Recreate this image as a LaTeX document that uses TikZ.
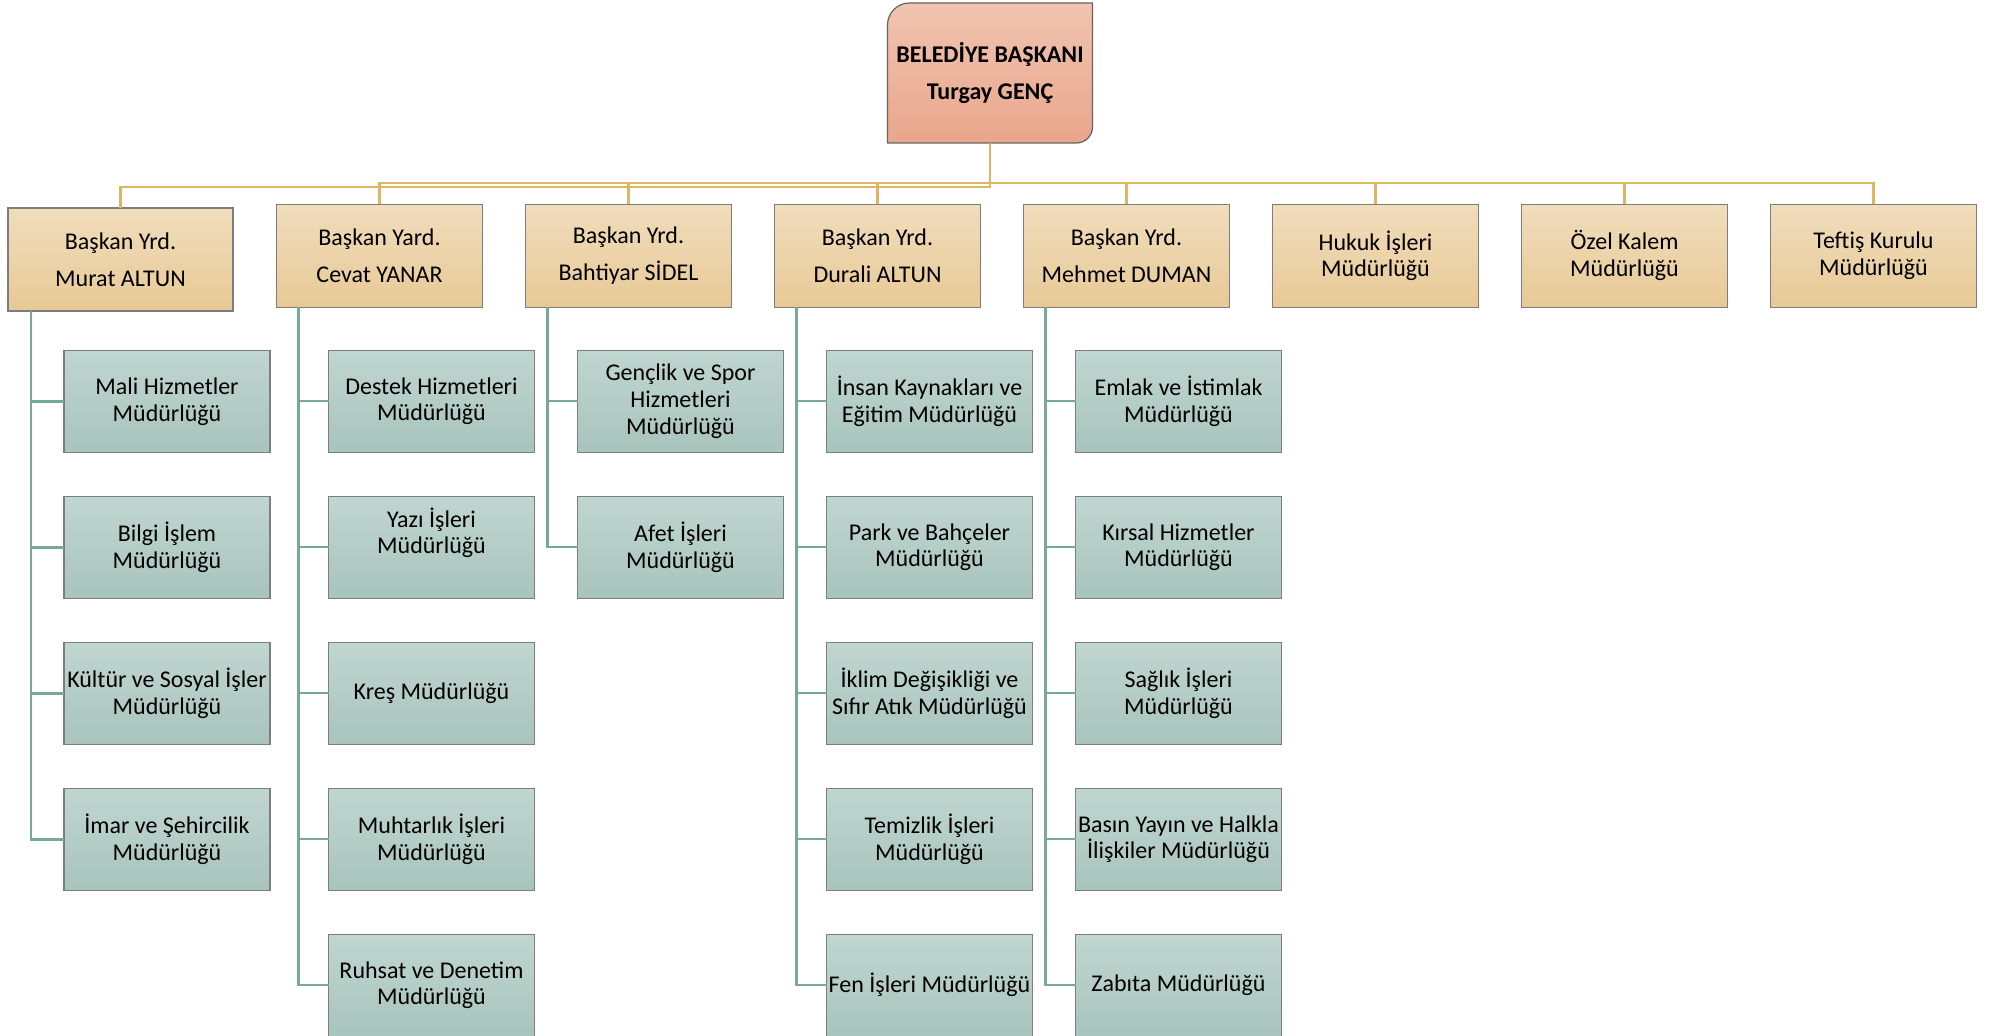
\documentclass[tikz,border=0pt]{standalone}
\usepackage{fontspec}
\setmainfont{Carlito}
\usetikzlibrary{positioning, backgrounds}

\definecolor{bbtop}{RGB}{241,196,176}
\definecolor{bbbot}{RGB}{233,166,140}
\definecolor{yrdtop}{RGB}{240,221,188}
\definecolor{yrdbot}{RGB}{232,201,150}
\definecolor{mdrtop}{RGB}{192,214,208}
\definecolor{mdrbot}{RGB}{168,196,188}
\definecolor{goldline}{RGB}{220,182,98}
\definecolor{tealline}{RGB}{120,168,152}
\definecolor{boxedge}{RGB}{125,125,125}

\tikzset{
    box/.style = {draw=boxedge, line width=0.6pt, align=center, inner sep=1pt, outer sep=0pt,
                  minimum width=103pt, minimum height=51.5pt, font=\fontsize{12pt}{13.4pt}\selectfont},
    yrd/.style = {box, top color=yrdtop, bottom color=yrdbot, font=\fontsize{12pt}{18.5pt}\selectfont},
    brm/.style = {box, top color=yrdtop, bottom color=yrdbot},
    mdr/.style = {box, top color=mdrtop, bottom color=mdrbot, minimum height=51pt},
    baskan/.style = {align=center, minimum width=102.5pt, minimum height=70pt, outer sep=0pt,
                     font=\bfseries\fontsize{12pt}{18.5pt}\selectfont},
    gline/.style = {draw=goldline, line width=1.3pt},
    tline/.style = {draw=tealline, line width=1.2pt}
}

\begin{document}
\begin{tikzpicture} [x=0.5pt, y=-0.5pt, node distance = 22pt]

    \useasboundingbox (0,0) rectangle (1998,1036);

    \node (bb) [baskan] at (990,73) {BELEDİYE BAŞKANI\\Turgay GENÇ};
    \begin{scope}[on background layer]
        \path [draw=boxedge!80!black, line width=0.6pt, top color=bbtop, bottom color=bbbot]
            (bb.south west) -- ([yshift=-11pt]bb.north west) arc [start angle=180, end angle=90, radius=11pt]
            -- (bb.north east) -- ([yshift=8pt]bb.south east) arc [start angle=0, end angle=-90, radius=8pt] -- cycle;
    \end{scope}

    \node (y1) [yrd, minimum width=112.5pt] at (120.5,259.5) {Başkan Yrd.\\Murat ALTUN};
    \node (y2) [yrd, right = 21.75pt of y1, yshift=1.9pt] {Başkan Yard.\\Cevat YANAR};
    \node (y3) [yrd, right = 21.5pt of y2] {Başkan Yrd.\\Bahtiyar SİDEL};
    \node (y4) [yrd, right = 21.5pt of y3] {Başkan Yrd.\\Durali ALTUN};
    \node (y5) [yrd, right = 21.5pt of y4] {Başkan Yrd.\\Mehmet DUMAN};
    \node (y6) [brm, right = 21.5pt of y5] {Hukuk İşleri\\Müdürlüğü};
    \node (y7) [brm, right = 21.5pt of y6] {Özel Kalem\\Müdürlüğü};
    \node (y8) [brm, right = 21.5pt of y7] {Teftiş Kurulu\\Müdürlüğü};

    % Murat ALTUN
    \node (m11) [mdr, below right = 19.75pt and 28pt of y1.south west] {Mali Hizmetler\\Müdürlüğü};
    \node (m12) [mdr, below = of m11] {Bilgi İşlem\\Müdürlüğü};
    \node (m13) [mdr, below = of m12] {Kültür ve Sosyal İşler\\Müdürlüğü};
    \node (m14) [mdr, below = of m13] {İmar ve Şehircilik\\Müdürlüğü};

    % Cevat YANAR
    \node (m21) [mdr, below right = 21.5pt and 26pt of y2.south west] {Destek Hizmetleri\\Müdürlüğü};
    \node (m22) [mdr, below = of m21] {Yazı İşleri\\Müdürlüğü\\[3pt]~};
    \node (m23) [mdr, below = of m22] {Kreş Müdürlüğü};
    \node (m24) [mdr, below = of m23] {Muhtarlık İşleri\\Müdürlüğü};
    \node (m25) [mdr, below = of m24] {Ruhsat ve Denetim\\Müdürlüğü};

    % Bahtiyar SIDEL
    \node (m31) [mdr, below right = 21.5pt and 26pt of y3.south west] {Gençlik ve Spor\\Hizmetleri\\Müdürlüğü};
    \node (m32) [mdr, below = of m31] {Afet İşleri\\Müdürlüğü};

    % Durali ALTUN
    \node (m41) [mdr, below right = 21.5pt and 26pt of y4.south west] {İnsan Kaynakları ve\\Eğitim Müdürlüğü};
    \node (m42) [mdr, below = of m41] {Park ve Bahçeler\\Müdürlüğü};
    \node (m43) [mdr, below = of m42] {İklim Değişikliği ve\\Sıfır Atık Müdürlüğü};
    \node (m44) [mdr, below = of m43] {Temizlik İşleri\\Müdürlüğü};
    \node (m45) [mdr, below = of m44] {Fen İşleri Müdürlüğü};

    % Mehmet DUMAN
    \node (m51) [mdr, below right = 21.5pt and 26pt of y5.south west] {Emlak ve İstimlak\\Müdürlüğü};
    \node (m52) [mdr, below = of m51] {Kırsal Hizmetler\\Müdürlüğü};
    \node (m53) [mdr, below = of m52] {Sağlık İşleri\\Müdürlüğü};
    \node (m54) [mdr, below = of m53] {Basın Yayın ve Halkla\\İlişkiler Müdürlüğü};
    \node (m55) [mdr, below = of m54] {Zabıta Müdürlüğü};

    \draw [gline] (bb.south) -- ++(0,-22pt) -| (y1.north);
    \draw [gline] (bb.south) -- ++(0,-20pt) -| (y2.north);
    \draw [gline] (bb.south) -- ++(0,-20pt) -| (y3.north);
    \draw [gline] (bb.south) -- ++(0,-20pt) -| (y4.north);
    \draw [gline] (bb.south) -- ++(0,-20pt) -| (y5.north);
    \draw [gline] (bb.south) -- ++(0,-20pt) -| (y6.north);
    \draw [gline] (bb.south) -- ++(0,-20pt) -| (y7.north);
    \draw [gline] (bb.south) -- ++(0,-20pt) -| (y8.north);

    \draw [tline] ([xshift=11.5pt]y1.south west) |- (m11.west);
    \draw [tline] ([xshift=11.5pt]y1.south west) |- (m12.west);
    \draw [tline] ([xshift=11.5pt]y1.south west) |- (m13.west);
    \draw [tline] ([xshift=11.5pt]y1.south west) |- (m14.west);

    \draw [tline] ([xshift=11pt]y2.south west) |- (m21.west);
    \draw [tline] ([xshift=11pt]y2.south west) |- (m22.west);
    \draw [tline] ([xshift=11pt]y2.south west) |- (m23.west);
    \draw [tline] ([xshift=11pt]y2.south west) |- (m24.west);
    \draw [tline] ([xshift=11pt]y2.south west) |- (m25.west);

    \draw [tline] ([xshift=11pt]y3.south west) |- (m31.west);
    \draw [tline] ([xshift=11pt]y3.south west) |- (m32.west);

    \draw [tline] ([xshift=11pt]y4.south west) |- (m41.west);
    \draw [tline] ([xshift=11pt]y4.south west) |- (m42.west);
    \draw [tline] ([xshift=11pt]y4.south west) |- (m43.west);
    \draw [tline] ([xshift=11pt]y4.south west) |- (m44.west);
    \draw [tline] ([xshift=11pt]y4.south west) |- (m45.west);

    \draw [tline] ([xshift=11pt]y5.south west) |- (m51.west);
    \draw [tline] ([xshift=11pt]y5.south west) |- (m52.west);
    \draw [tline] ([xshift=11pt]y5.south west) |- (m53.west);
    \draw [tline] ([xshift=11pt]y5.south west) |- (m54.west);
    \draw [tline] ([xshift=11pt]y5.south west) |- (m55.west);

\end{tikzpicture}
\end{document}
